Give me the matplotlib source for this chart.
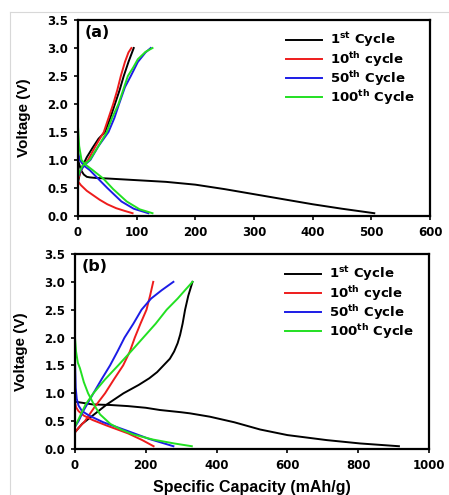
import matplotlib
matplotlib.use('Agg')
import matplotlib.pyplot as plt
from matplotlib.lines import Line2D
from matplotlib.ticker import FormatStrFormatter

plt.rcParams['font.family'] = ['DejaVu Sans']
plt.rcParams['mathtext.fontset'] = 'custom'
plt.rcParams['mathtext.bf'] = 'DejaVu Sans:bold'
plt.rcParams['mathtext.rm'] = 'DejaVu Sans:bold'

# ---- (a) charge/discharge profiles ----
a_c1_dis_cap = [0, 2, 5, 10, 15, 20, 30, 50, 100, 150, 200, 250, 300, 350, 400, 450, 505]
a_c1_dis_v = [1.0, 0.93, 0.82, 0.74, 0.70, 0.69, 0.68, 0.67, 0.64, 0.61, 0.56, 0.48, 0.39, 0.30, 0.21, 0.13, 0.05]
a_c1_chg_cap = [0, 3, 8, 15, 25, 35, 46, 55, 63, 71, 78, 86, 95]
a_c1_chg_v = [0.6, 0.75, 0.9, 1.05, 1.22, 1.38, 1.5, 1.75, 2.0, 2.25, 2.5, 2.75, 3.0]

a_c10_dis_cap = [0, 0, 5, 15, 26, 37, 50, 65, 80, 93]
a_c10_dis_v = [0.95, 0.62, 0.55, 0.45, 0.37, 0.29, 0.21, 0.14, 0.09, 0.05]
a_c10_chg_cap = [0, 3, 8, 17, 30, 44, 52, 60, 67, 73, 80, 86, 91]
a_c10_chg_v = [0.65, 0.75, 0.88, 1.0, 1.25, 1.5, 1.75, 2.0, 2.25, 2.5, 2.75, 2.92, 3.0]

a_c50_dis_cap = [0, 3, 10, 20, 34, 50, 74, 95, 120]
a_c50_dis_v = [1.15, 1.0, 0.9, 0.82, 0.67, 0.5, 0.26, 0.13, 0.05]
a_c50_chg_cap = [0, 5, 12, 21, 35, 52, 62, 70, 80, 90, 102, 115, 124]
a_c50_chg_v = [0.7, 0.82, 0.92, 1.0, 1.25, 1.5, 1.75, 2.0, 2.3, 2.5, 2.75, 2.92, 3.0]

a_c100_dis_cap = [0, 2, 6, 15, 25, 43, 60, 83, 105, 127]
a_c100_dis_v = [1.6, 1.25, 1.0, 0.9, 0.82, 0.67, 0.48, 0.26, 0.12, 0.05]
a_c100_chg_cap = [0, 0, 3, 8, 20, 35, 49, 58, 69, 77, 85, 94, 102, 115, 127]
a_c100_chg_v = [0.35, 0.7, 0.8, 0.9, 1.0, 1.25, 1.5, 1.75, 2.0, 2.25, 2.5, 2.65, 2.8, 2.93, 3.0]

# ---- (b) charge/discharge profiles ----
b_c1_dis_cap = [0, 50, 100, 150, 200, 240, 300, 325, 381, 450, 523, 600, 711, 805, 915]
b_c1_dis_v = [0.85, 0.80, 0.79, 0.77, 0.74, 0.70, 0.66, 0.64, 0.58, 0.48, 0.35, 0.25, 0.16, 0.10, 0.05]
b_c1_chg_cap = [0, 20, 52, 90, 137, 180, 210, 232, 250, 268, 280, 290, 297, 304, 311, 320, 332]
b_c1_chg_v = [0.3, 0.45, 0.61, 0.8, 1.0, 1.15, 1.27, 1.38, 1.5, 1.62, 1.75, 1.9, 2.05, 2.25, 2.5, 2.75, 3.0]

b_c10_dis_cap = [0, 3, 10, 25, 50, 90, 150, 190, 222]
b_c10_dis_v = [0.85, 0.75, 0.68, 0.6, 0.52, 0.42, 0.28, 0.16, 0.05]
b_c10_chg_cap = [0, 10, 28, 55, 85, 110, 136, 155, 169, 185, 202, 212, 221]
b_c10_chg_v = [0.3, 0.38, 0.5, 0.75, 1.0, 1.25, 1.5, 1.75, 2.0, 2.25, 2.5, 2.75, 3.0]

b_c50_dis_cap = [0, 2, 5, 10, 20, 40, 80, 146, 210, 278]
b_c50_dis_v = [1.6, 1.1, 0.9, 0.78, 0.68, 0.6, 0.48, 0.33, 0.18, 0.05]
b_c50_chg_cap = [0, 10, 25, 52, 75, 99, 120, 140, 165, 188, 215, 245, 278]
b_c50_chg_v = [0.4, 0.5, 0.7, 1.0, 1.25, 1.5, 1.75, 2.0, 2.25, 2.5, 2.7, 2.85, 3.0]

b_c100_dis_cap = [0, 3, 8, 14, 25, 37, 55, 71, 100, 130, 165, 220, 280, 330]
b_c100_dis_v = [2.0, 1.75, 1.55, 1.45, 1.2, 1.0, 0.78, 0.62, 0.45, 0.35, 0.26, 0.17, 0.1, 0.05]
b_c100_chg_cap = [0, 15, 30, 52, 85, 122, 158, 193, 228, 259, 290, 315, 332]
b_c100_chg_v = [0.4, 0.6, 0.8, 1.0, 1.25, 1.5, 1.75, 2.0, 2.25, 2.5, 2.7, 2.88, 3.0]

labels = ['1$^{\\mathbf{st}}$ Cycle', '10$^{\\mathbf{th}}$ cycle',
          '50$^{\\mathbf{th}}$ Cycle', '100$^{\\mathbf{th}}$ Cycle']
colors = ['#000000', '#ee1c1c', '#1c1ce6', '#22e022']

panels = [
    dict(tag='(a)', xmax=600, xstep=100,
         pos=[0.1737, 0.5636, 0.784, 0.396],
         curves=[(a_c1_dis_cap, a_c1_dis_v, a_c1_chg_cap, a_c1_chg_v),
                 (a_c10_dis_cap, a_c10_dis_v, a_c10_chg_cap, a_c10_chg_v),
                 (a_c50_dis_cap, a_c50_dis_v, a_c50_chg_cap, a_c50_chg_v),
                 (a_c100_dis_cap, a_c100_dis_v, a_c100_chg_cap, a_c100_chg_v)]),
    dict(tag='(b)', xmax=1000, xstep=200,
         pos=[0.167, 0.0929, 0.7885, 0.394],
         curves=[(b_c1_dis_cap, b_c1_dis_v, b_c1_chg_cap, b_c1_chg_v),
                 (b_c10_dis_cap, b_c10_dis_v, b_c10_chg_cap, b_c10_chg_v),
                 (b_c50_dis_cap, b_c50_dis_v, b_c50_chg_cap, b_c50_chg_v),
                 (b_c100_dis_cap, b_c100_dis_v, b_c100_chg_cap, b_c100_chg_v)]),
]

fig = plt.figure(figsize=(4.49, 4.95), dpi=100, facecolor='white')

# thin grey frame round the figure
fig.add_artist(Line2D([10 / 449, 1], [1 - 12 / 495] * 2, color='#d8d8d8', lw=0.8))
fig.add_artist(Line2D([10 / 449] * 2, [0, 1 - 12 / 495], color='#d8d8d8', lw=0.8))

for p in panels:
    ax = fig.add_axes(p['pos'])
    for (dc, dv, cc, cv), col in zip(p['curves'], colors):
        ax.plot(dc, dv, color=col, lw=1.4, solid_joinstyle='round')
        ax.plot(cc, cv, color=col, lw=1.4, solid_joinstyle='round')

    ax.set_xlim(0, p['xmax'])
    ax.set_ylim(0, 3.5)
    ax.set_xticks(range(0, p['xmax'] + 1, p['xstep']))
    ax.set_yticks([i * 0.5 for i in range(8)])
    ax.yaxis.set_major_formatter(FormatStrFormatter('%.1f'))
    ax.tick_params(direction='out', length=3, width=1.2, labelsize=8.5, pad=4)
    for lab in ax.get_xticklabels() + ax.get_yticklabels():
        lab.set_fontweight('bold')
    for s in ax.spines.values():
        s.set_linewidth(1.6)
    ax.set_ylabel('Voltage (V)', fontsize=11, fontweight='bold', labelpad=12,
                  family='Liberation Sans')
    ax.text(0.02, 0.975, p['tag'], transform=ax.transAxes, fontsize=11.5,
            fontweight='bold', va='top', ha='left')

    handles = [Line2D([0], [0], color=c, lw=1.4) for c in colors]
    ax.legend(handles, labels, loc='upper right', frameon=False,
              bbox_to_anchor=(0.99, 1.005), handlelength=2.7, handletextpad=0.6,
              labelspacing=0.02, prop={'weight': 'bold', 'size': 9.5})

ax.set_xlabel('Specific Capacity (mAh/g)', fontsize=11.5, fontweight='bold', labelpad=6,
              family='Liberation Sans')

fig.savefig('out.png', dpi=100, facecolor='white')
